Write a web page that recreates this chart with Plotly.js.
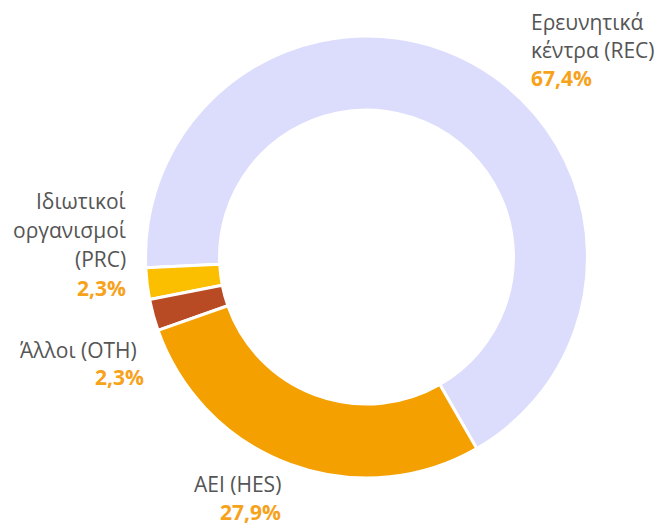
<!DOCTYPE html>
<html>
<head>
<meta charset="utf-8">
<script src="https://cdn.plot.ly/plotly-3.0.1.min.js"></script>
<style>html,body{margin:0;padding:0;background:#fff;}#chart{width:660px;height:525px;}</style>
</head>
<body>
<div id="chart"></div>
<script>
// Data
var codes = ["REC", "PRC", "OTH", "HES"];
var names = ["Ερευνητικά<br>κέντρα (REC)", "Ιδιωτικοί<br>οργανισμοί<br>(PRC)", "Άλλοι (OTH)", "ΑΕΙ (HES)"];
var values = [67.4, 2.3, 2.3, 27.9];
var colors = ["#dcdcfc", "#fbbf00", "#b84a24", "#f4a000"];

var W = 660, H = 525;
function px(x){ return x / W; }
function py(y){ return 1 - y / H; }

// pie geometry (pixels)
var cx = 366.5, cy = 257, R = 221;

var pctColor = "#f7a21b";
function fmt(v){ return v.toFixed(1).replace(".", ",") + "%"; }

// label placement (pixels): first-line box top, name x, percent x, line spacing
var labelPos = [
  {x: 529, px: 529, y: 6, lh: 28, anchor: "left"},
  {x: 128, px: 128, y: 185, lh: 29, anchor: "right"},
  {x: 139, px: 145.5, y: 334, lh: 27, anchor: "right"},
  {x: 283, px: 283, y: 468, lh: 28, anchor: "right"}
];

var annotations = [];
function addText(t, x, y, anchor, font){
  annotations.push({
    xref: "paper", yref: "paper",
    x: px(x), y: py(y),
    xanchor: anchor, yanchor: "top",
    align: anchor,
    showarrow: false,
    text: t,
    font: font
  });
}
names.forEach(function(n, i){
  var p = labelPos[i];
  var lines = n.split("<br>");
  lines.forEach(function(line, k){
    addText(line, p.x, p.y + k * p.lh, p.anchor, {family: "Open Sans", size: 21, color: "#555555"});
  });
  addText("<b>" + fmt(values[i]) + "</b>", p.px, p.y + lines.length * p.lh, p.anchor,
          {family: "Open Sans", size: 21, color: pctColor});
});

var trace = {
  type: "pie",
  labels: codes,
  values: values,
  sort: false,
  direction: "counterclockwise",
  rotation: -92.8,
  hole: 0.665,
  textinfo: "none",
  hoverinfo: "none",
  marker: {colors: colors, line: {color: "#ffffff", width: 3}},
  domain: {x: [px(cx - R), px(cx + R)], y: [py(cy + R), py(cy - R)]}
};

var layout = {
  width: W, height: H,
  margin: {l: 0, r: 0, t: 0, b: 0},
  showlegend: false,
  paper_bgcolor: "#ffffff",
  annotations: annotations
};

Plotly.newPlot("chart", [trace], layout, {displayModeBar: false, staticPlot: true});
</script>
</body>
</html>
